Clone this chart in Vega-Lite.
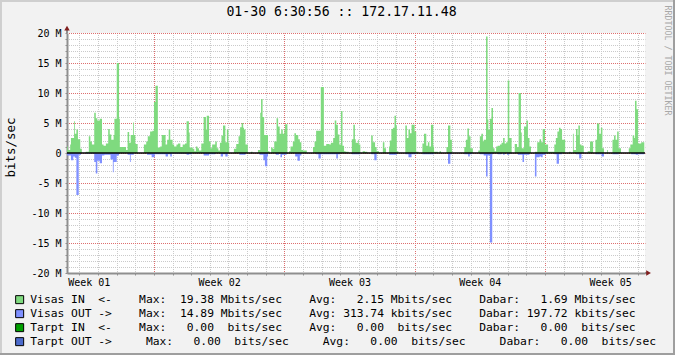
{
  "$schema": "https://vega.github.io/schema/vega-lite/v6.json",
  "width": 578,
  "height": 240,
  "autosize": {"type": "none"},
  "padding": {"left": 67, "top": 33, "right": 30, "bottom": 82},
  "background": "#F2F2F2",
  "config": {"view": {"fill": "#FFFFFF", "stroke": null}, "font": "DejaVu Sans Mono"},
  "title": {"text": "01-30 6:30:56 :: 172.17.11.48", "font": "DejaVu Sans Mono", "fontSize": 13.2, "fontWeight": "normal", "color": "#000000", "anchor": "middle", "frame": "group", "dx": -14.5, "offset": -20},
  "datasets": {
    "traffic": [
      {"s":"Visas IN","t":-112,"v":1.1},{"s":"Visas IN","t":-111,"v":0.5},{"s":"Visas IN","t":-108,"v":1.4},{"s":"Visas IN","t":-107,"v":2.5},{"s":"Visas IN","t":-103,"v":5.3},{"s":"Visas IN","t":-102,"v":3.2},{"s":"Visas IN","t":-100,"v":3.9},{"s":"Visas IN","t":-98,"v":2.3},{"s":"Visas IN","t":-95,"v":0.7},{"s":"Visas IN","t":-93,"v":0},
      {"s":"Visas IN","t":-88,"v":0.2},{"s":"Visas IN","t":-84,"v":2.8},{"s":"Visas IN","t":-82,"v":1.9},{"s":"Visas IN","t":-80,"v":1.4},{"s":"Visas IN","t":-77,"v":6.7},{"s":"Visas IN","t":-75,"v":5.8},{"s":"Visas IN","t":-73,"v":5.4},{"s":"Visas IN","t":-70,"v":5.7},{"s":"Visas IN","t":-67,"v":1.4},{"s":"Visas IN","t":-65,"v":1.2},
      {"s":"Visas IN","t":-62,"v":1.6},{"s":"Visas IN","t":-59,"v":4.0},{"s":"Visas IN","t":-57,"v":3.1},{"s":"Visas IN","t":-55,"v":2.2},{"s":"Visas IN","t":-52,"v":3.0},{"s":"Visas IN","t":-51,"v":5.7},{"s":"Visas IN","t":-48,"v":15.0},{"s":"Visas IN","t":-45,"v":5.7},{"s":"Visas IN","t":-44,"v":1.0},{"s":"Visas IN","t":-36,"v":0.5},
      {"s":"Visas IN","t":-34,"v":3.5},{"s":"Visas IN","t":-32,"v":1.7},{"s":"Visas IN","t":-30,"v":3.0},{"s":"Visas IN","t":-27,"v":5.1},{"s":"Visas IN","t":-26,"v":3.0},{"s":"Visas IN","t":-24,"v":1.5},{"s":"Visas IN","t":-21,"v":0},{"s":"Visas IN","t":-13,"v":1.4},{"s":"Visas IN","t":-10,"v":1.9},{"s":"Visas IN","t":-8,"v":2.8},
      {"s":"Visas IN","t":-5,"v":3.6},{"s":"Visas IN","t":-2,"v":3.7},{"s":"Visas IN","t":0,"v":8.5},{"s":"Visas IN","t":2,"v":11.2},{"s":"Visas IN","t":5,"v":0.9},{"s":"Visas IN","t":8,"v":1.1},{"s":"Visas IN","t":10,"v":3.0},{"s":"Visas IN","t":15,"v":1.4},{"s":"Visas IN","t":17,"v":2.2},{"s":"Visas IN","t":19,"v":3.9},
      {"s":"Visas IN","t":21,"v":2.2},{"s":"Visas IN","t":24,"v":1.4},{"s":"Visas IN","t":26,"v":1.1},{"s":"Visas IN","t":29,"v":1.4},{"s":"Visas IN","t":31,"v":1.6},{"s":"Visas IN","t":34,"v":1.0},{"s":"Visas IN","t":37,"v":1.4},{"s":"Visas IN","t":40,"v":1.6},{"s":"Visas IN","t":42,"v":5.3},{"s":"Visas IN","t":45,"v":3.4},
      {"s":"Visas IN","t":46,"v":0.9},{"s":"Visas IN","t":50,"v":0.7},{"s":"Visas IN","t":52,"v":0.3},{"s":"Visas IN","t":54,"v":1.1},{"s":"Visas IN","t":56,"v":0.8},{"s":"Visas IN","t":58,"v":0.4},{"s":"Visas IN","t":61,"v":1.6},{"s":"Visas IN","t":64,"v":6.0},{"s":"Visas IN","t":67,"v":3.9},{"s":"Visas IN","t":68,"v":6.2},
      {"s":"Visas IN","t":71,"v":1.9},{"s":"Visas IN","t":73,"v":0.8},{"s":"Visas IN","t":75,"v":1.4},{"s":"Visas IN","t":79,"v":1.9},{"s":"Visas IN","t":81,"v":0.8},{"s":"Visas IN","t":83,"v":0.4},{"s":"Visas IN","t":85,"v":1.7},{"s":"Visas IN","t":87,"v":2.9},{"s":"Visas IN","t":89,"v":4.6},{"s":"Visas IN","t":92,"v":1.8},
      {"s":"Visas IN","t":94,"v":3.9},{"s":"Visas IN","t":96,"v":1.7},{"s":"Visas IN","t":97,"v":0},{"s":"Visas IN","t":103,"v":0.7},{"s":"Visas IN","t":106,"v":1.5},{"s":"Visas IN","t":109,"v":2.8},{"s":"Visas IN","t":111,"v":4.3},{"s":"Visas IN","t":113,"v":5.0},{"s":"Visas IN","t":115,"v":4.2},{"s":"Visas IN","t":116,"v":3.9},
      {"s":"Visas IN","t":118,"v":1.4},{"s":"Visas IN","t":121,"v":0},{"s":"Visas IN","t":125,"v":0.2},{"s":"Visas IN","t":127,"v":0},{"s":"Visas IN","t":134,"v":0.5},{"s":"Visas IN","t":137,"v":6.7},{"s":"Visas IN","t":138,"v":9.0},{"s":"Visas IN","t":140,"v":6.0},{"s":"Visas IN","t":142,"v":3.0},{"s":"Visas IN","t":147,"v":0.3},
      {"s":"Visas IN","t":149,"v":0},{"s":"Visas IN","t":151,"v":0.9},{"s":"Visas IN","t":153,"v":0.7},{"s":"Visas IN","t":155,"v":1.9},{"s":"Visas IN","t":158,"v":5.8},{"s":"Visas IN","t":160,"v":4.4},{"s":"Visas IN","t":162,"v":3.2},{"s":"Visas IN","t":164,"v":3.9},{"s":"Visas IN","t":166,"v":3.2},{"s":"Visas IN","t":168,"v":3.9},
      {"s":"Visas IN","t":169,"v":4.8},{"s":"Visas IN","t":172,"v":0},{"s":"Visas IN","t":174,"v":0.3},{"s":"Visas IN","t":176,"v":1.1},{"s":"Visas IN","t":179,"v":1.9},{"s":"Visas IN","t":181,"v":3.3},{"s":"Visas IN","t":183,"v":3.0},{"s":"Visas IN","t":186,"v":2.3},{"s":"Visas IN","t":188,"v":1.8},{"s":"Visas IN","t":190,"v":0.5},
      {"s":"Visas IN","t":192,"v":0.4},{"s":"Visas IN","t":197,"v":0},{"s":"Visas IN","t":205,"v":1.0},{"s":"Visas IN","t":207,"v":1.9},{"s":"Visas IN","t":209,"v":3.7},{"s":"Visas IN","t":215,"v":11.0},{"s":"Visas IN","t":219,"v":1.2},{"s":"Visas IN","t":222,"v":1.5},{"s":"Visas IN","t":226,"v":1.4},{"s":"Visas IN","t":228,"v":1.7},
      {"s":"Visas IN","t":231,"v":2.5},{"s":"Visas IN","t":233,"v":5.4},{"s":"Visas IN","t":235,"v":4.7},{"s":"Visas IN","t":237,"v":3.1},{"s":"Visas IN","t":239,"v":1.4},{"s":"Visas IN","t":241,"v":7.0},{"s":"Visas IN","t":243,"v":1.2},{"s":"Visas IN","t":245,"v":0.3},{"s":"Visas IN","t":247,"v":0.2},{"s":"Visas IN","t":251,"v":0},
      {"s":"Visas IN","t":255,"v":2.3},{"s":"Visas IN","t":257,"v":4.7},{"s":"Visas IN","t":259,"v":2.3},{"s":"Visas IN","t":260,"v":1.7},{"s":"Visas IN","t":263,"v":2.2},{"s":"Visas IN","t":264,"v":1.4},{"s":"Visas IN","t":266,"v":0},{"s":"Visas IN","t":269,"v":0.3},{"s":"Visas IN","t":272,"v":0.2},{"s":"Visas IN","t":275,"v":0},
      {"s":"Visas IN","t":280,"v":2.9},{"s":"Visas IN","t":282,"v":1.8},{"s":"Visas IN","t":285,"v":1.0},{"s":"Visas IN","t":287,"v":0.3},{"s":"Visas IN","t":290,"v":0},{"s":"Visas IN","t":295,"v":1.8},{"s":"Visas IN","t":297,"v":0.8},{"s":"Visas IN","t":299,"v":0},{"s":"Visas IN","t":303,"v":1.1},{"s":"Visas IN","t":304,"v":2.1},
      {"s":"Visas IN","t":306,"v":4.0},{"s":"Visas IN","t":308,"v":4.2},{"s":"Visas IN","t":310,"v":6.2},{"s":"Visas IN","t":312,"v":4.6},{"s":"Visas IN","t":313,"v":0.3},{"s":"Visas IN","t":315,"v":0},{"s":"Visas IN","t":324,"v":4.6},{"s":"Visas IN","t":326,"v":2.5},{"s":"Visas IN","t":328,"v":3.9},{"s":"Visas IN","t":330,"v":3.3},
      {"s":"Visas IN","t":332,"v":4.7},{"s":"Visas IN","t":336,"v":3.6},{"s":"Visas IN","t":338,"v":0.2},{"s":"Visas IN","t":341,"v":0},{"s":"Visas IN","t":346,"v":1.6},{"s":"Visas IN","t":348,"v":3.2},{"s":"Visas IN","t":351,"v":1.2},{"s":"Visas IN","t":353,"v":1.8},{"s":"Visas IN","t":355,"v":1.1},{"s":"Visas IN","t":357,"v":4.7},
      {"s":"Visas IN","t":360,"v":1.1},{"s":"Visas IN","t":361,"v":0.2},{"s":"Visas IN","t":366,"v":0},{"s":"Visas IN","t":368,"v":0.3},{"s":"Visas IN","t":370,"v":0},{"s":"Visas IN","t":377,"v":1.0},{"s":"Visas IN","t":379,"v":4.6},{"s":"Visas IN","t":382,"v":2.2},{"s":"Visas IN","t":384,"v":0},{"s":"Visas IN","t":400,"v":1.0},
      {"s":"Visas IN","t":402,"v":2.2},{"s":"Visas IN","t":404,"v":4.1},{"s":"Visas IN","t":406,"v":2.8},{"s":"Visas IN","t":408,"v":0.8},{"s":"Visas IN","t":411,"v":0},{"s":"Visas IN","t":418,"v":0.4},{"s":"Visas IN","t":420,"v":2.8},{"s":"Visas IN","t":422,"v":3.2},{"s":"Visas IN","t":424,"v":1.9},{"s":"Visas IN","t":425,"v":2.2},
      {"s":"Visas IN","t":428,"v":19.4},{"s":"Visas IN","t":430,"v":5.6},{"s":"Visas IN","t":431,"v":3.9},{"s":"Visas IN","t":433,"v":5.7},{"s":"Visas IN","t":435,"v":7.5},{"s":"Visas IN","t":437,"v":0.8},{"s":"Visas IN","t":439,"v":0.3},{"s":"Visas IN","t":441,"v":1.1},{"s":"Visas IN","t":443,"v":1.2},{"s":"Visas IN","t":446,"v":1.4},
      {"s":"Visas IN","t":448,"v":1.7},{"s":"Visas IN","t":450,"v":2.5},{"s":"Visas IN","t":452,"v":1.6},{"s":"Visas IN","t":454,"v":1.8},{"s":"Visas IN","t":456,"v":12.1},{"s":"Visas IN","t":458,"v":2.5},{"s":"Visas IN","t":461,"v":0},{"s":"Visas IN","t":465,"v":1.5},{"s":"Visas IN","t":468,"v":1.0},{"s":"Visas IN","t":470,"v":10.0},
      {"s":"Visas IN","t":473,"v":3.4},{"s":"Visas IN","t":474,"v":0.8},{"s":"Visas IN","t":477,"v":4.4},{"s":"Visas IN","t":480,"v":5.4},{"s":"Visas IN","t":482,"v":2.5},{"s":"Visas IN","t":484,"v":1.1},{"s":"Visas IN","t":486,"v":0},{"s":"Visas IN","t":491,"v":0.2},{"s":"Visas IN","t":494,"v":1.8},{"s":"Visas IN","t":497,"v":2.3},
      {"s":"Visas IN","t":499,"v":1.8},{"s":"Visas IN","t":501,"v":4.0},{"s":"Visas IN","t":504,"v":1.4},{"s":"Visas IN","t":508,"v":0.2},{"s":"Visas IN","t":516,"v":1.4},{"s":"Visas IN","t":518,"v":2.5},{"s":"Visas IN","t":520,"v":3.6},{"s":"Visas IN","t":522,"v":4.2},{"s":"Visas IN","t":524,"v":4.0},{"s":"Visas IN","t":526,"v":2.2},
      {"s":"Visas IN","t":530,"v":0},{"s":"Visas IN","t":535,"v":0.2},{"s":"Visas IN","t":537,"v":0},{"s":"Visas IN","t":540,"v":3.2},{"s":"Visas IN","t":541,"v":0.5},{"s":"Visas IN","t":544,"v":4.0},{"s":"Visas IN","t":546,"v":3.0},{"s":"Visas IN","t":547,"v":4.6},{"s":"Visas IN","t":549,"v":1.4},{"s":"Visas IN","t":551,"v":1.2},
      {"s":"Visas IN","t":554,"v":0},{"s":"Visas IN","t":559,"v":0.3},{"s":"Visas IN","t":562,"v":1.9},{"s":"Visas IN","t":566,"v":0},{"s":"Visas IN","t":569,"v":2.2},{"s":"Visas IN","t":571,"v":4.9},{"s":"Visas IN","t":574,"v":3.2},{"s":"Visas IN","t":576,"v":4.2},{"s":"Visas IN","t":578,"v":0.8},{"s":"Visas IN","t":580,"v":0},
      {"s":"Visas IN","t":584,"v":0.5},{"s":"Visas IN","t":585,"v":0},{"s":"Visas IN","t":591,"v":2.2},{"s":"Visas IN","t":593,"v":2.9},{"s":"Visas IN","t":595,"v":2.2},{"s":"Visas IN","t":597,"v":3.6},{"s":"Visas IN","t":599,"v":0.8},{"s":"Visas IN","t":602,"v":0},{"s":"Visas IN","t":612,"v":0.8},{"s":"Visas IN","t":614,"v":1.4},
      {"s":"Visas IN","t":617,"v":2.9},{"s":"Visas IN","t":619,"v":2.5},{"s":"Visas IN","t":620,"v":8.7},{"s":"Visas IN","t":622,"v":7.3},{"s":"Visas IN","t":624,"v":1.6},{"s":"Visas IN","t":628,"v":1.8},{"s":"Visas IN","t":632,"v":0},
      {"s":"Visas OUT","t":-112,"v":-0.4},{"s":"Visas OUT","t":-107,"v":-1.2},{"s":"Visas OUT","t":-104,"v":-0.6},{"s":"Visas OUT","t":-102,"v":-0.8},{"s":"Visas OUT","t":-100,"v":-7.0},{"s":"Visas OUT","t":-97,"v":-0.3},{"s":"Visas OUT","t":-94,"v":0},{"s":"Visas OUT","t":-88,"v":-0.1},{"s":"Visas OUT","t":-77,"v":-1.5},{"s":"Visas OUT","t":-75,"v":-3.4},
      {"s":"Visas OUT","t":-73,"v":-1.3},{"s":"Visas OUT","t":-70,"v":-1.7},{"s":"Visas OUT","t":-67,"v":-0.4},{"s":"Visas OUT","t":-64,"v":-0.3},{"s":"Visas OUT","t":-56,"v":-1.1},{"s":"Visas OUT","t":-53,"v":-3.2},{"s":"Visas OUT","t":-52,"v":-1.5},{"s":"Visas OUT","t":-48,"v":-0.4},{"s":"Visas OUT","t":-45,"v":0},{"s":"Visas OUT","t":-34,"v":-0.3},
      {"s":"Visas OUT","t":-31,"v":-1.5},{"s":"Visas OUT","t":-30,"v":-0.3},{"s":"Visas OUT","t":-26,"v":0},{"s":"Visas OUT","t":-9,"v":-0.3},{"s":"Visas OUT","t":-3,"v":-0.7},{"s":"Visas OUT","t":1,"v":-0.2},{"s":"Visas OUT","t":15,"v":-0.6},{"s":"Visas OUT","t":18,"v":-0.2},{"s":"Visas OUT","t":21,"v":-0.6},{"s":"Visas OUT","t":23,"v":-0.1},
      {"s":"Visas OUT","t":42,"v":-0.3},{"s":"Visas OUT","t":45,"v":-0.2},{"s":"Visas OUT","t":49,"v":0},{"s":"Visas OUT","t":64,"v":-0.4},{"s":"Visas OUT","t":71,"v":-0.2},{"s":"Visas OUT","t":79,"v":0},{"s":"Visas OUT","t":86,"v":-0.6},{"s":"Visas OUT","t":89,"v":-0.2},{"s":"Visas OUT","t":92,"v":-0.6},{"s":"Visas OUT","t":95,"v":0},
      {"s":"Visas OUT","t":110,"v":-0.3},{"s":"Visas OUT","t":118,"v":0},{"s":"Visas OUT","t":136,"v":-0.3},{"s":"Visas OUT","t":141,"v":-1.2},{"s":"Visas OUT","t":143,"v":-2.2},{"s":"Visas OUT","t":146,"v":-0.6},{"s":"Visas OUT","t":147,"v":0},{"s":"Visas OUT","t":157,"v":-0.3},{"s":"Visas OUT","t":161,"v":0},{"s":"Visas OUT","t":163,"v":-0.7},
      {"s":"Visas OUT","t":165,"v":-0.3},{"s":"Visas OUT","t":171,"v":0},{"s":"Visas OUT","t":182,"v":-0.6},{"s":"Visas OUT","t":185,"v":-1.3},{"s":"Visas OUT","t":188,"v":-0.4},{"s":"Visas OUT","t":190,"v":0},{"s":"Visas OUT","t":209,"v":-0.2},{"s":"Visas OUT","t":212,"v":-0.9},{"s":"Visas OUT","t":215,"v":-0.2},{"s":"Visas OUT","t":235,"v":-0.9},
      {"s":"Visas OUT","t":237,"v":-0.2},{"s":"Visas OUT","t":240,"v":0},{"s":"Visas OUT","t":255,"v":-0.2},{"s":"Visas OUT","t":266,"v":0},{"s":"Visas OUT","t":280,"v":-0.2},{"s":"Visas OUT","t":284,"v":-1.2},{"s":"Visas OUT","t":287,"v":0},{"s":"Visas OUT","t":303,"v":-0.3},{"s":"Visas OUT","t":313,"v":0},{"s":"Visas OUT","t":324,"v":-0.2},
      {"s":"Visas OUT","t":328,"v":-0.7},{"s":"Visas OUT","t":332,"v":-0.2},{"s":"Visas OUT","t":338,"v":0},{"s":"Visas OUT","t":346,"v":-0.2},{"s":"Visas OUT","t":361,"v":0},{"s":"Visas OUT","t":379,"v":-1.8},{"s":"Visas OUT","t":382,"v":-0.2},{"s":"Visas OUT","t":384,"v":0},{"s":"Visas OUT","t":400,"v":-0.2},{"s":"Visas OUT","t":405,"v":-0.6},
      {"s":"Visas OUT","t":407,"v":-0.2},{"s":"Visas OUT","t":410,"v":0},{"s":"Visas OUT","t":420,"v":-0.2},{"s":"Visas OUT","t":425,"v":-0.4},{"s":"Visas OUT","t":428,"v":-3.9},{"s":"Visas OUT","t":430,"v":-0.4},{"s":"Visas OUT","t":433,"v":-14.9},{"s":"Visas OUT","t":436,"v":-0.2},{"s":"Visas OUT","t":437,"v":0},{"s":"Visas OUT","t":443,"v":-0.2},
      {"s":"Visas OUT","t":448,"v":0},{"s":"Visas OUT","t":450,"v":-0.3},{"s":"Visas OUT","t":452,"v":0},{"s":"Visas OUT","t":455,"v":-0.3},{"s":"Visas OUT","t":458,"v":-0.1},{"s":"Visas OUT","t":461,"v":0},{"s":"Visas OUT","t":469,"v":-0.3},{"s":"Visas OUT","t":475,"v":-1.5},{"s":"Visas OUT","t":477,"v":-0.3},{"s":"Visas OUT","t":484,"v":0},
      {"s":"Visas OUT","t":491,"v":-3.9},{"s":"Visas OUT","t":493,"v":-0.7},{"s":"Visas OUT","t":497,"v":-0.6},{"s":"Visas OUT","t":499,"v":-0.7},{"s":"Visas OUT","t":501,"v":-0.3},{"s":"Visas OUT","t":505,"v":0},{"s":"Visas OUT","t":516,"v":-0.2},{"s":"Visas OUT","t":519,"v":-1.8},{"s":"Visas OUT","t":522,"v":-0.2},{"s":"Visas OUT","t":526,"v":0},
      {"s":"Visas OUT","t":544,"v":-0.2},{"s":"Visas OUT","t":548,"v":-0.9},{"s":"Visas OUT","t":551,"v":0},{"s":"Visas OUT","t":569,"v":-0.2},{"s":"Visas OUT","t":577,"v":-0.6},{"s":"Visas OUT","t":580,"v":0},{"s":"Visas OUT","t":591,"v":-0.2},{"s":"Visas OUT","t":599,"v":0},{"s":"Visas OUT","t":615,"v":-0.2},{"s":"Visas OUT","t":621,"v":-0.3},
      {"s":"Visas OUT","t":624,"v":-0.2},{"s":"Visas OUT","t":632,"v":0}
    ]
  },
  "resolve": {"axis": {"x": "independent", "y": "independent"}},
  "layer": [
    {
      "data": {"values": [{}]},
      "mark": {"type": "rule", "color": "#CFCFCF", "strokeWidth": 2, "clip": false},
      "encoding": {
        "x": {"datum": -197.2, "type": "quantitative", "axis": null},
        "y": {"datum": 25.5, "type": "quantitative", "axis": null},
        "y2": {"datum": -33.5}
      }
    },
    {
      "data": {"values": [{}]},
      "mark": {"type": "rule", "color": "#CFCFCF", "strokeWidth": 2, "clip": false},
      "encoding": {
        "x": {"datum": -198.5, "type": "quantitative", "axis": null},
        "x2": {"datum": 671.5},
        "y": {"datum": 25.333, "type": "quantitative", "axis": null}
      }
    },
    {
      "data": {"values": [{}]},
      "mark": {"type": "rule", "color": "#9E9E9E", "strokeWidth": 2, "clip": false},
      "encoding": {
        "x": {"datum": 670.3, "type": "quantitative", "axis": null},
        "y": {"datum": 25.5, "type": "quantitative", "axis": null},
        "y2": {"datum": -33.7}
      }
    },
    {
      "data": {"values": [{}]},
      "mark": {"type": "rule", "color": "#9E9E9E", "strokeWidth": 2, "clip": false},
      "encoding": {
        "x": {"datum": -198.5, "type": "quantitative", "axis": null},
        "x2": {"datum": 671.5},
        "y": {"datum": -33.5, "type": "quantitative", "axis": null}
      }
    },
    {
      "data": {"name": "traffic"},
      "mark": {"type": "area", "interpolate": "step-after"},
      "encoding": {
        "x": {"field": "t", "type": "quantitative",
          "scale": {"domain": [-112.1, 632.9], "nice": false, "zero": false},
          "axis": {"orient": "bottom", "title": null,
            "values": [-96,-72,-48,-24,0,24,48,72,96,120,144,168,192,216,240,264,288,312,336,360,384,408,432,456,480,504,528,552,576,600,624],
            "grid": true, "gridDash": [1, 1], "gridDashOffset": 0.5, "gridWidth": 1, "gridOpacity": 1,
            "gridColor": {"condition": {"test": "datum.value % 168 === 0", "value": "#DE6E6E"}, "value": "#CACACA"},
            "domain": true, "domainColor": "#8F8F8F", "domainWidth": 2,
            "ticks": true, "tickSize": 2, "tickColor": "#8F8F8F",
            "labelExpr": "datum.value === -96 ? 'Week 01' : datum.value === 72 ? 'Week 02' : datum.value === 240 ? 'Week 03' : datum.value === 408 ? 'Week 04' : datum.value === 576 ? 'Week 05' : ''",
            "labelOffset": 9.3, "labelFont": "DejaVu Sans Mono", "labelFontSize": 10, "labelColor": "#000000",
            "labelPadding": 2, "labelOverlap": false, "labelFlush": false}},
        "y": {"field": "v", "type": "quantitative",
          "scale": {"domain": [-20, 20], "nice": false},
          "axis": {"orient": "left",
            "values": [-20,-19,-18,-17,-16,-15,-14,-13,-12,-11,-10,-9,-8,-7,-6,-5,-4,-3,-2,-1,0,1,2,3,4,5,6,7,8,9,10,11,12,13,14,15,16,17,18,19,20],
            "grid": true, "gridDash": [1, 1], "gridDashOffset": 0.5, "gridWidth": 1, "gridOpacity": 1,
            "gridColor": {"condition": {"test": "datum.value % 5 === 0", "value": "#DE6E6E"}, "value": "#CACACA"},
            "domain": true, "domainColor": "#8F8F8F", "domainWidth": 2,
            "ticks": true, "tickSize": 2, "tickColor": "#8F8F8F",
            "labelExpr": "datum.value % 5 !== 0 ? '' : (datum.value === 0 ? '0' : datum.value + ' M')",
            "labelFont": "DejaVu Sans Mono", "labelFontSize": 10, "labelColor": "#000000",
            "labelPadding": 4, "labelOverlap": false, "labelFlush": false,
            "title": "bits/sec", "titleFont": "DejaVu Sans Mono", "titleFontSize": 12.5, "titleFontWeight": "normal", "titleColor": "#000000",
            "titleAngle": -90, "titleX": -57, "titleY": 114, "titleAlign": "center", "titleBaseline": "middle"}},
        "y2": {"datum": 0},
        "color": {"field": "s", "type": "nominal",
          "scale": {"domain": ["Visas IN", "Visas OUT", "Tarpt IN", "Tarpt OUT"], "range": ["#7FDA7F", "#7F90FF", "#00A000", "#4C6BCC"]},
          "legend": {"orient": "none", "legendX": -53, "legendY": 261, "direction": "vertical", "title": null, "padding": 0,
            "symbolType": "square", "symbolSize": 64, "symbolStrokeColor": "#000000", "symbolStrokeWidth": 1, "symbolOpacity": 1,
            "labelFont": "DejaVu Sans Mono", "labelFontSize": 11.3, "labelColor": "#000000", "labelOffset": 5, "labelLimit": 1000, "rowPadding": 1,
            "labelExpr": "datum.label === 'Visas IN' ? 'Visas\u00a0IN\u00a0\u00a0<-\u00a0\u00a0\u00a0\u00a0Max:\u00a0\u00a019.38\u00a0Mbits/sec\u00a0\u00a0\u00a0\u00a0Avg:\u00a0\u00a0\u00a02.15\u00a0Mbits/sec\u00a0\u00a0\u00a0\u00a0Dabar:\u00a0\u00a0\u00a01.69\u00a0Mbits/sec' : datum.label === 'Visas OUT' ? 'Visas\u00a0OUT\u00a0->\u00a0\u00a0\u00a0\u00a0Max:\u00a0\u00a014.89\u00a0Mbits/sec\u00a0\u00a0\u00a0\u00a0Avg:\u00a0313.74\u00a0kbits/sec\u00a0\u00a0\u00a0\u00a0Dabar:\u00a0197.72\u00a0kbits/sec' : datum.label === 'Tarpt IN' ? 'Tarpt\u00a0IN\u00a0\u00a0<-\u00a0\u00a0\u00a0\u00a0Max:\u00a0\u00a0\u00a00.00\u00a0\u00a0bits/sec\u00a0\u00a0\u00a0\u00a0Avg:\u00a0\u00a0\u00a00.00\u00a0\u00a0bits/sec\u00a0\u00a0\u00a0\u00a0Dabar:\u00a0\u00a0\u00a00.00\u00a0\u00a0bits/sec' : 'Tarpt\u00a0OUT\u00a0->\u00a0\u00a0\u00a0\u00a0\u00a0Max:\u00a0\u00a0\u00a00.00\u00a0\u00a0bits/sec\u00a0\u00a0\u00a0\u00a0\u00a0Avg:\u00a0\u00a0\u00a00.00\u00a0\u00a0bits/sec\u00a0\u00a0\u00a0\u00a0\u00a0Dabar:\u00a0\u00a0\u00a00.00\u00a0\u00a0bits/sec'"}}
      }
    },
    {
      "data": {"values": [{"z": 0}]},
      "mark": {"type": "rule", "color": "#000000", "strokeWidth": 1.5},
      "encoding": {
        "y": {"field": "z", "type": "quantitative",
          "axis": {"orient": "right", "labels": false, "ticks": false, "domain": false, "grid": false,
            "title": "RRDTOOL / TOBI OETIKER", "titleFont": "DejaVu Sans Mono", "titleFontSize": 8.3, "titleFontWeight": "normal", "titleColor": "#A8A8A8",
            "titleAngle": 90, "titleX": 21, "titleY": 27, "titleAlign": "center", "titleBaseline": "middle"}}
      }
    },
    {
      "data": {"values": [{}]},
      "mark": {"type": "rule", "color": "#8F8F8F", "strokeWidth": 2, "clip": false},
      "encoding": {
        "x": {"datum": -112.1, "type": "quantitative", "axis": null},
        "y": {"datum": 20, "type": "quantitative", "axis": null},
        "y2": {"datum": 20.8}
      }
    },
    {
      "data": {"values": [{}]},
      "mark": {"type": "rule", "color": "#8F8F8F", "strokeWidth": 2, "clip": false},
      "encoding": {
        "x": {"datum": 632.9, "type": "quantitative", "axis": null},
        "x2": {"datum": 637},
        "y": {"datum": -20, "type": "quantitative", "axis": null}
      }
    },
    {
      "data": {"values": [{}]},
      "mark": {"type": "point", "shape": "triangle-up", "filled": true, "color": "#801F1F", "opacity": 1, "size": 30, "clip": false},
      "encoding": {
        "x": {"datum": -112.1, "type": "quantitative", "axis": null},
        "y": {"datum": 20.8, "type": "quantitative", "axis": null}
      }
    },
    {
      "data": {"values": [{}]},
      "mark": {"type": "point", "shape": "triangle-right", "filled": true, "color": "#801F1F", "opacity": 1, "size": 30, "clip": false},
      "encoding": {
        "x": {"datum": 637.5, "type": "quantitative", "axis": null},
        "y": {"datum": -20, "type": "quantitative", "axis": null}
      }
    }
  ]
}
